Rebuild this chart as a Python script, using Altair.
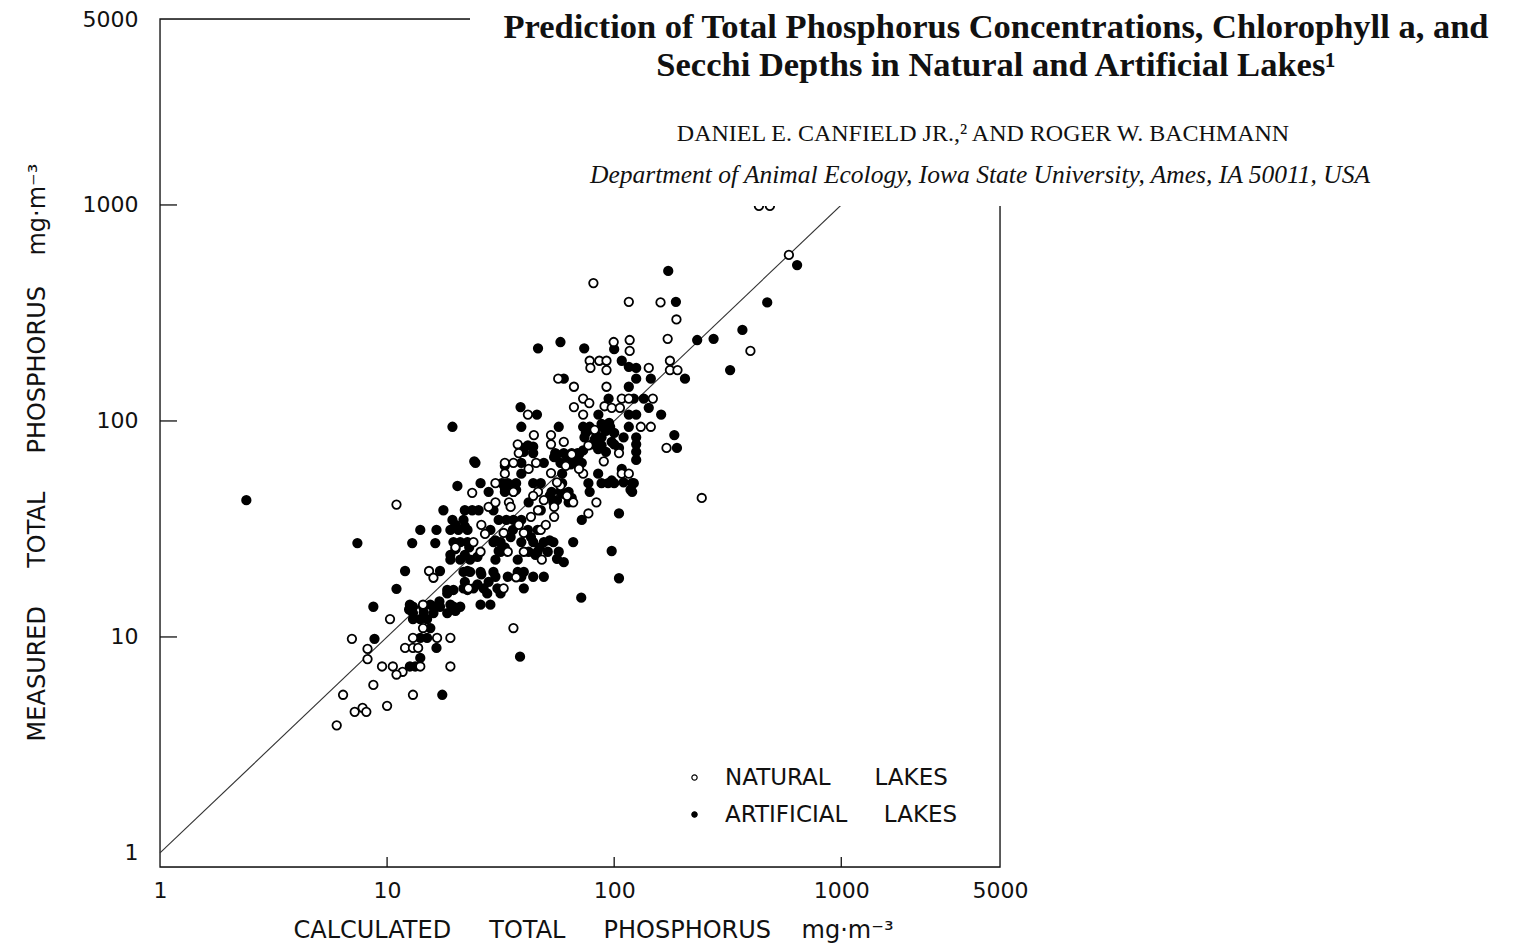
import altair as alt
import pandas as pd

NB = "\u00a0"

# ---- data ----
nat_x = [6.0, 6.4, 7.2, 7.8, 8.1, 10.0, 8.7, 13.0, 9.5, 10.6, 11.7, 11.0, 14.0, 19.0, 8.2, 8.2, 12.0, 13.0, 13.7,
         7.0, 13.0, 16.6, 19.0, 14.4, 10.3, 15.3, 16.0, 14.4, 11.0, 22.8, 24.0, 25.8, 23.7, 30.0, 32.6, 34.0, 33.0,
         33.0, 36.0, 37.6, 38.0, 34.4, 40.0, 40.0, 37.0, 32.6, 44.3, 52.7, 52.7, 45.3, 46.2, 46.2, 49.0, 47.5, 48.0,
         54.4, 54.4, 52.7, 66.0, 73.0, 77.0, 105, 82.0, 83.5, 77.0, 36.0, 116, 160, 188, 81, 434, 485, 588, 99.5,
         117, 117, 172, 398, 78, 86, 92.5, 92.5, 78.6, 142, 176, 176, 190, 56.7, 66.5, 92.5, 108, 116, 148, 73,
         66.5, 77.7, 73, 90.7, 97.5, 106, 41.7, 131, 145, 170, 61.2, 108, 116, 243, 26, 28, 20, 42, 60, 65, 58, 62,
         43, 36, 35, 38, 44, 50, 27, 30, 56, 70, 90]
nat_y = [3.9, 5.4, 4.5, 4.7, 4.5, 4.8, 6.0, 5.4, 7.3, 7.3, 6.9, 6.7, 7.3, 7.3, 8.8, 7.9, 8.9, 8.9, 8.9,
         9.8, 9.9, 9.9, 9.9, 11.0, 12.1, 20.2, 18.8, 14.1, 41.0, 16.8, 27.5, 24.8, 46.5, 51.5, 30.3, 24.8, 64.0,
         57.0, 64.0, 78.0, 71.0, 42.0, 24.8, 30.3, 18.9, 16.8, 86.0, 86.0, 78.0, 64.0, 47.0, 38.6, 43.0, 31.3, 22.8,
         40.0, 36.0, 57.4, 42.0, 57.0, 77.0, 71.0, 91.0, 42.0, 37.3, 11.0, 356, 354, 295, 435, 990, 990, 587, 232,
         237, 211, 240, 211, 190, 190, 190, 172, 176, 176, 190, 172, 172, 157, 144, 144, 127, 127, 127, 127,
         116, 121, 107, 117, 115, 115, 107, 94, 94, 75, 62, 57, 57, 44, 33, 40, 26, 60, 80, 70, 50, 45,
         36, 47, 40, 33, 45, 33, 30, 42, 52, 60, 65]

art_x = [2.4, 7.4, 19.4, 8.7, 8.8, 17.5, 38.5, 11.0, 12.0, 17.1, 12.9, 16.3, 14.0, 16.5, 17.7, 20.4, 24.2, 22.6,
         12.6, 13.3, 14.0, 16.5, 14.0, 15.0, 15.5, 13.0, 14.0, 15.0, 13.0, 14.4, 16.0, 17.1, 19.6, 21.0,
         12.6, 15.5, 19.0, 25.8, 28.5, 13.0, 16.0, 18.4, 18.4, 19.6, 22.6, 21.7, 24.0, 26.6, 30.6, 40.0, 18.4, 27.6, 31.6,
         21.7, 23.2, 25.8, 29.4, 37.6, 40.0, 34.0, 39.0, 44.0, 49.0, 105, 71.6,
         19.0, 21.0, 23.2, 30.0, 37.6, 60.0, 22.0, 19.0,
         31.6, 42.0, 46.0, 51.0, 57.0, 97.5,
         19.6, 21.0, 22.6, 29.4, 31.6, 39.0, 44.0, 49.0, 54.0, 66.0,
         19.0, 20.6, 22.6, 28.5, 35.8, 41.7, 46.0,
         19.4, 21.7, 31.0, 33.5, 36.0, 39.0, 72.0,
         22.0, 23.7, 25.3, 29.4, 47.5, 105,
         42.0, 54.0, 63.0,
         28.0, 33.0, 36.0, 53.0, 58.0, 63.0, 78.0, 120,
         25.8, 32.0, 34.0, 37.0, 44.0, 47.5, 59.0, 77.0, 88.0, 94.0, 100, 120, 97.5, 122,
         39.0, 59.0, 85.0, 108,
         24.5, 33.0, 39.0, 49.0, 58.0, 62.0, 66.0, 72.0, 54.4, 64.4,
         44.0, 55.0, 60.0, 65.0, 69.0, 73.0,
         41.7, 88.0, 40.0, 125, 125, 189,
         74.0, 88.0, 83.5, 184, 125, 125,
         39.0, 57.0, 78.0, 88.0, 96.0, 116, 73.0, 77.0, 100, 88.0, 97.5, 105, 80.0, 92.0,
         38.7, 45.7, 85.2, 142, 161, 116, 125, 122, 135, 94.5, 116, 60, 125, 145, 205, 324, 108, 116, 125,
         58, 46.2, 73.8, 100, 232, 274, 367, 173, 187, 472, 639,
         56, 62, 68, 70, 75, 82, 92, 100, 110, 85, 95, 33, 35, 37, 52, 56, 60, 65,
         30, 33, 35, 31, 43, 47, 52, 56, 45, 22, 25, 28, 30, 26, 20, 22,
         12.5, 14.5, 17, 20, 20, 23, 25, 40, 44, 110, 118]
art_y = [43, 27.2, 94, 13.8, 9.8, 5.4, 8.1, 16.7, 20.2, 20.2, 27.2, 27.2, 31.3, 31.3, 38.6, 50, 65, 20.2,
         7.3, 7.3, 8.0, 8.9, 9.9, 9.9, 11.0, 12.1, 12.1, 12.1, 13.8, 13.8, 13.8, 13.8, 13.8, 13.8,
         14.1, 14.1, 14.1, 14.1, 14.1, 12.9, 12.9, 12.9, 16.5, 16.5, 16.5, 16.8, 16.8, 16.8, 16.8, 16.8, 15.9, 15.9, 15.9,
         20.0, 20.0, 20.0, 20.0, 20.0, 20.0, 19.0, 19.0, 19.0, 19.0, 18.7, 15.2,
         22.8, 22.8, 22.8, 22.8, 22.8, 22.2, 24.0, 24.0,
         24.8, 24.8, 24.8, 24.8, 24.8, 25.0,
         27.5, 27.5, 27.5, 27.5, 27.5, 27.5, 27.5, 27.5, 27.5, 27.5,
         31.3, 31.3, 31.3, 31.3, 31.3, 31.3, 31.3,
         34.8, 34.8, 34.8, 34.8, 34.8, 34.8, 34.8,
         38.6, 38.6, 38.6, 38.6, 38.6, 37.3,
         42.0, 42.0, 42.0,
         47.0, 47.0, 47.0, 47.0, 47.0, 47.0, 47.0, 47.0,
         51.5, 51.5, 51.5, 51.5, 51.5, 51.5, 51.5, 51.5, 51.5, 51.5, 51.5, 51.5, 53.0, 51.5,
         57.0, 57.0, 57.0, 60.0,
         64.0, 62.0, 64.0, 64.0, 64.0, 64.0, 64.0, 64.0, 68.0, 63.0,
         71.0, 71.0, 71.0, 71.0, 71.0, 73.0,
         77.0, 77.0, 75.0, 72.0, 66.0, 75.0,
         84.0, 84.0, 86.0, 86.0, 84.0, 78.0,
         94.0, 94.0, 94.0, 94.0, 94.0, 94.0, 94.0, 91.0, 88.0, 97.0, 80.0, 75.0, 78.0, 72.0,
         116, 107, 107, 115, 107, 107, 107, 127, 127, 127, 144, 157, 157, 157, 157, 172, 190, 178, 176,
         232, 217, 217, 215, 237, 240, 264, 495, 356, 354, 527,
         70, 68, 66, 70, 88, 82, 90, 78, 84, 74, 98, 49, 50, 48, 45, 43, 46, 44,
         28, 26, 29, 25, 29, 26, 28, 23, 24, 18, 17.5, 18, 19, 19.5, 33, 32.5,
         13.4, 13, 14.6, 13.2, 25.5, 26, 23.5, 72, 76, 52, 48]

groups = ["NATURAL" + NB * 6 + "LAKES", "ARTIFICIAL" + NB * 5 + "LAKES"]
x_ticks = [10, 100, 1000]
y_ticks = [10, 100, 1000]
line_vals = [1, 5000]

header_lines = [
    "Prediction of Total Phosphorus Concentrations, Chlorophyll a, and",
    "Secchi Depths in Natural and Artificial Lakes\u00b9",
    "DANIEL E. CANFIELD JR.,\u00b2 AND ROGER W. BACHMANN",
    "Department of Animal Ecology, Iowa State University, Ames, IA 50011, USA",
]

x_title = "CALCULATED" + NB * 5 + "TOTAL" + NB * 5 + "PHOSPHORUS" + NB * 4 + "mg\u00b7m\u207b\u00b3"
y_title = "MEASURED" + NB * 5 + "TOTAL" + NB * 5 + "PHOSPHORUS" + NB * 4 + "mg\u00b7m\u207b\u00b3"

# ---- tables ----
pts = pd.DataFrame({
    "x": nat_x + art_x,
    "y": nat_y + art_y,
    "type": [groups[0]] * len(nat_x) + [groups[1]] * len(art_x),
})
pts = pd.concat([pts[pts.type == groups[1]], pts[pts.type == groups[0]]])
pts["order"] = range(len(pts))

W, H = 840, 848
SANS = "DejaVu Sans"
SERIF = "Liberation Serif"

xscale = alt.Scale(type="log", domain=[1, 5000], nice=False)
yscale = alt.Scale(type="log", domain=[0.861, 7260], nice=False)

xaxis = alt.Axis(values=[1, 10, 100, 1000, 5000], format="d", title=x_title, grid=False, domain=False,
                 ticks=False, labelPadding=13, labelFont=SANS, labelFontSize=22, labelColor="#111",
                 labelOverlap=False, labelFlush=False, titleFont=SANS, titleFontSize=24,
                 titleFontWeight="normal", titleColor="#111", titleX=433, titleY=63,
                 titleBaseline="middle", titleAlign="center", titleAnchor="start")
yaxis = alt.Axis(values=[1, 10, 100, 1000, 7260],
                 labelExpr="datum.value > 5000 ? '5000' : format(datum.value, 'd')",
                 title=y_title, grid=False, domain=False, ticks=False, labelPadding=22,
                 labelFont=SANS, labelFontSize=22, labelColor="#111", labelOverlap=False,
                 labelFlush=False, labelBaseline="middle", titleFont=SANS, titleFontSize=24,
                 titleFontWeight="normal", titleColor="#111", titleX=-123, titleY=433,
                 titleAngle=-90, titleBaseline="middle", titleAlign="center", titleAnchor="start")

one = pd.DataFrame({"k": [0]})

frame = alt.Chart(one).mark_rect(fill="white", fillOpacity=0, stroke="#111", strokeWidth=1.3).encode(
    x=alt.value(0), x2=alt.value(W), y=alt.value(0), y2=alt.value(H))

ytick_layer = alt.Chart(pd.DataFrame({"y": y_ticks})).mark_rule(color="#111", strokeWidth=1.3).encode(
    y=alt.Y("y:Q", scale=yscale, axis=yaxis), x=alt.value(0), x2=alt.value(17))
xtick_layer = alt.Chart(pd.DataFrame({"x": x_ticks})).mark_rule(color="#111", strokeWidth=1.3).encode(
    x=alt.X("x:Q", scale=xscale, axis=xaxis), y=alt.value(H), y2=alt.value(H - 10))

line = alt.Chart(pd.DataFrame({"x": line_vals, "y": line_vals})).mark_line(
    color="#333", strokeWidth=1.1).encode(
    x=alt.X("x:Q", scale=xscale, axis=xaxis), y=alt.Y("y:Q", scale=yscale, axis=yaxis))

points = alt.Chart(pts).mark_point(shape="circle", filled=True, stroke="black", strokeWidth=1.8,
                                   size=72, opacity=1).encode(
    x=alt.X("x:Q", scale=xscale, axis=xaxis),
    y=alt.Y("y:Q", scale=yscale, axis=yaxis),
    fill=alt.Fill("type:N", scale=alt.Scale(domain=groups, range=["white", "black"]),
                  legend=alt.Legend(title=None, orient="none", legendX=523, legendY=747,
                                    labelFont=SANS, labelFontSize=23, labelColor="#111", labelLimit=0,
                                    symbolSize=28, symbolType="circle", symbolStrokeColor="black",
                                    symbolStrokeWidth=1.2, rowPadding=13, labelOffset=19, padding=0)),
    order=alt.Order("order:Q"),
)

cover = alt.Chart(one).mark_rect(fill="white").encode(
    x=alt.value(310), x2=alt.value(1354), y=alt.value(-19), y2=alt.value(187))

def txt(s, x, y, size, font=SERIF, weight="normal", style="normal"):
    return alt.Chart(one).mark_text(text=s, font=font, fontSize=size, fontWeight=weight,
                                    fontStyle=style, align="center", baseline="alphabetic",
                                    color="#111").encode(x=alt.value(x), y=alt.value(y))

h1 = txt(header_lines[0], 836, 19, 34.5, weight="bold")
h2 = txt(header_lines[1], 836, 57, 34.5, weight="bold")
h3 = txt(header_lines[2], 823, 122, 24)
h4 = txt(header_lines[3], 820, 164, 25.5, style="italic")

chart = alt.layer(frame, ytick_layer, xtick_layer, line, points, cover, h1, h2, h3, h4).properties(
    width=W, height=H, autosize="none",
    padding={"left": 160, "top": 19, "right": 514, "bottom": 79},
).configure_view(stroke=None).configure(background="white")

chart.save("out.html", embed_options={"renderer": "svg", "actions": False})
